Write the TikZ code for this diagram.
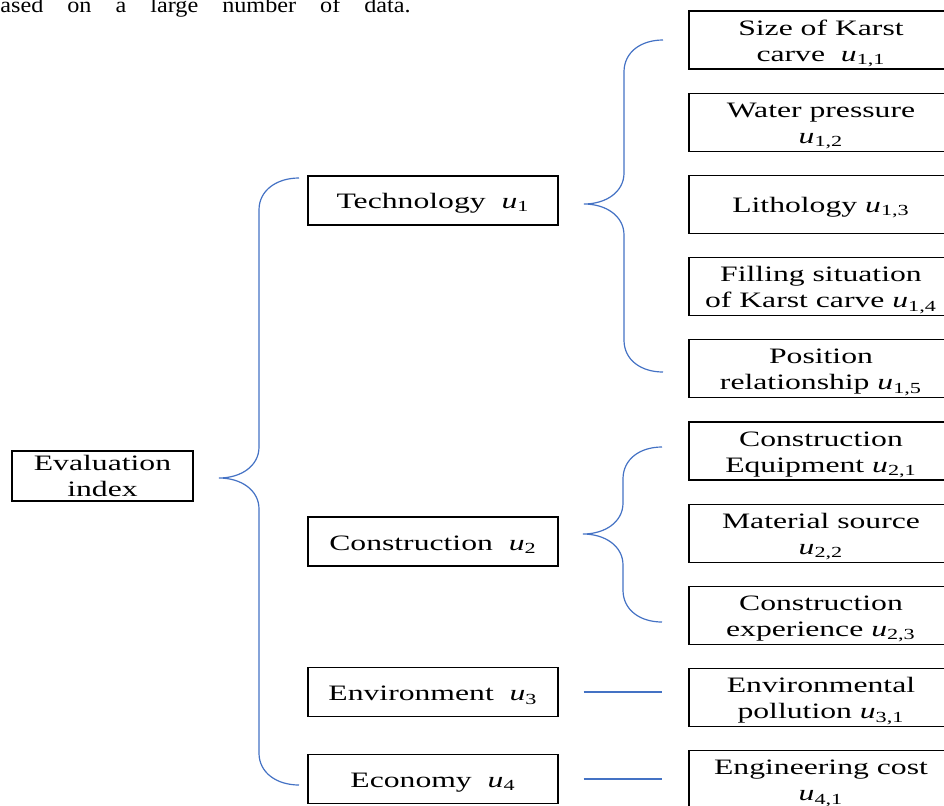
\documentclass[tikz,border=0pt]{standalone}
\usepackage{fontspec}
\setmainfont{Liberation Serif}[FakeStretch=1.44]
\newfontfamily\bodyfont{Liberation Serif}[FakeStretch=1.1]
\usetikzlibrary{positioning, calc}
\definecolor{braceblue}{HTML}{4472C4}
\newcommand{\usub}[1]{\textit{u}\textsubscript{#1}}
\newcommand{\hd}{\rule{0pt}{11pt}}
% curly bracket: top end, tip, bottom end
\newcommand{\curly}[3]{%
  \draw[link] let \p1=(#1), \p2=(#2), \p3=(#3) in
    (\p1) .. controls (\x1-11pt,\y1) and (\x2+20pt,\y1-6pt) .. (\x2+20pt,\y1-16pt)
    -- (\x2+20pt,\y2+15.5pt) .. controls (\x2+20pt,\y2+6pt) and (\x2+11pt,\y2) .. (\p2)
    .. controls (\x2+11pt,\y2) and (\x2+20pt,\y2-6pt) .. (\x2+20pt,\y2-15.5pt)
    -- (\x2+20pt,\y3+16pt) .. controls (\x2+20pt,\y3+6pt) and (\x3-11pt,\y3) .. (\p3);}

\begin{document}
\begin{tikzpicture}[x=0.5pt, y=-0.5pt, node distance={41.1pt}, font=\fontsize{11pt}{13pt}\selectfont,
    box/.style = {draw, line width=0.6pt, align=center, inner sep=0pt},
    mid/.style = {box, minimum width=125pt, minimum height=24.5pt, execute at begin node={\rule{0pt}{10.5pt}}},
    sub/.style = {box, minimum width=132pt, minimum height=29pt},
    link/.style = {braceblue, line width=0.6pt}]
    \useasboundingbox (0,0) rectangle (944,805);
    \clip (0,0) rectangle (944,805);

    \node[anchor=base west, inner sep=0pt, font={\bodyfont\fontsize{11pt}{13pt}\selectfont\spaceskip 12pt\relax}] (prev) at (0,12) {ased on a large number of data.};

    \node[box, minimum width=90.5pt, minimum height=25pt] (eval) at (102.5,476) {Evaluation\\index};
    \node[mid] (tech) at (433,200.5) {Technology\ \ \usub{1}};
    \node[mid] (cons) at (433,541.5) {Construction\ \ \usub{2}};
    \node[mid] (env) at (433,692) {Environment\ \ \usub{3}};
    \node[mid] (eco) at (433,779) {Economy\ \ \usub{4}};

    \node[sub] (1t) at (821,40) {\hd Size of Karst\\carve\ \ \usub{1,1}};
    \node[sub] (2t) [below of=1t] {\hd Water pressure\\\usub{1,2}};
    \node[sub] (3t) [below of=2t] {\hd Lithology \usub{1,3}};
    \node[sub] (4t) [below of=3t] {\hd Filling situation\\of Karst carve \usub{1,4}};
    \node[sub] (5t) [below of=4t] {\hd Position\\relationship \usub{1,5}};
    \node[sub] (1c) [below of=5t] {\hd Construction\\Equipment \usub{2,1}};
    \node[sub] (2c) [below of=1c] {\hd Material source\\\usub{2,2}};
    \node[sub] (3c) [below of=2c] {\hd Construction\\experience \usub{2,3}};
    \node[sub] (1v) [below of=3c] {\hd Environmental\\pollution \usub{3,1}};
    \node[sub] (1m) [below of=1v] {\hd Engineering cost\\\usub{4,1}};

    \coordinate (etop) at (299,178);
    \coordinate (etip) at (219,478);
    \coordinate (ebot) at (299,785);
    \coordinate (ttop) at (663,40);
    \coordinate (ttip) at (584,204);
    \coordinate (tbot) at (663,372);
    \coordinate (ctop) at (662,447);
    \coordinate (ctip) at (583,534);
    \coordinate (cbot) at (662,622);

    \curly{etop}{etip}{ebot};
    \curly{ttop}{ttip}{tbot};
    \curly{ctop}{ctip}{cbot};

    \draw[link, shorten <=12.5pt, shorten >=13pt] (env.east) -- (env.east -| 1v.west);
    \draw[link, shorten <=12.5pt, shorten >=13pt] (eco.east) -- (eco.east -| 1m.west);
\end{tikzpicture}
\end{document}
